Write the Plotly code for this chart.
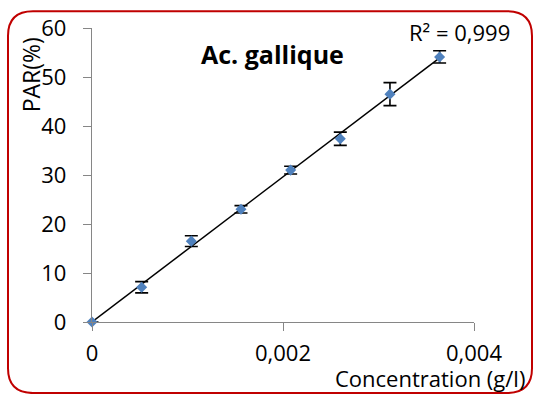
import numpy as np
import plotly.graph_objects as go

# Data
concentration = [0, 0.00052, 0.00104, 0.00156, 0.00208, 0.0026, 0.00312, 0.00364]
par = [0, 7.1, 16.5, 23.0, 31.0, 37.4, 46.5, 54.1]
par_err = [0, 1.15, 1.1, 0.75, 0.8, 1.35, 2.35, 1.25]
x_ticks = [0, 0.002, 0.004]
x_ticklabels = ["0", "0,002", "0,004"]
y_ticks = [0, 10, 20, 30, 40, 50, 60]

# Layout geometry (pixels)
W, H = 534, 394
L, R, T, B = 92, 60, 24, 72
PW, PH = W - L - R, H - T - B

def px(x):
    return (x - L) / PW

def py(y):
    return (H - B - y) / PH

# Linear trendline
slope, intercept = np.polyfit(concentration, par, 1)
tx = [0, concentration[-1]]
ty = [slope * v + intercept for v in tx]

FONT = "Open Sans"
fig = go.Figure()
fig.add_trace(go.Scatter(
    x=tx, y=ty, mode="lines",
    line=dict(color="black", width=1.5),
    cliponaxis=False, showlegend=False, hoverinfo="skip"))
fig.add_trace(go.Scatter(
    x=concentration, y=par, mode="markers",
    marker=dict(symbol="diamond", size=8.5, color="#4F81BD"),
    error_y=dict(type="data", array=par_err, visible=True,
                 color="black", thickness=1.6, width=6.5),
    cliponaxis=False, showlegend=False))

# Rounded border
left, right, top, bottom, r = 8, 532, 7, 394, 25
path = (
    f"M {px(left)},{py(top + r)} "
    f"Q {px(left)},{py(top)} {px(left + r)},{py(top)} "
    f"L {px(right - r)},{py(top)} "
    f"Q {px(right)},{py(top)} {px(right)},{py(top + r)} "
    f"L {px(right)},{py(bottom - r)} "
    f"Q {px(right)},{py(bottom)} {px(right - r)},{py(bottom)} "
    f"L {px(left + r)},{py(bottom)} "
    f"Q {px(left)},{py(bottom)} {px(left)},{py(bottom - r)} Z"
)
fig.add_shape(type="path", path=path, xref="paper", yref="paper",
              line=dict(color="#C00000", width=2), layer="above")

axis_common = dict(showgrid=False, zeroline=False, showline=True,
                   linecolor="#868686", linewidth=1.3, ticks="outside",
                   ticklen=8, tickcolor="#868686", tickwidth=1.3,
                   tickfont=dict(family=FONT, size=22, color="black"))

fig.update_layout(
    width=W, height=H,
    margin=dict(l=L, r=R, t=T, b=B),
    paper_bgcolor="white", plot_bgcolor="white",
    xaxis=dict(range=[0, 0.004], tickvals=x_ticks, ticktext=x_ticklabels,
               ticklabelstandoff=3, **axis_common),
    yaxis=dict(range=[0, 60], tickvals=y_ticks,
               ticklabelstandoff=12, **axis_common),
    annotations=[
        dict(text="PAR(%)", x=px(31), y=py(72), xref="paper", yref="paper",
             textangle=-90, showarrow=False,
             font=dict(family=FONT, size=23, color="black"),
             xanchor="center", yanchor="middle"),
        dict(text="Concentration (g/l)", x=px(430), y=py(379), xref="paper", yref="paper",
             showarrow=False, font=dict(family=FONT, size=22, color="black"),
             xanchor="center", yanchor="middle"),
        dict(text="<b>Ac. gallique</b>", x=px(272), y=py(50), xref="paper", yref="paper",
             showarrow=False, font=dict(family=FONT, size=25, color="black"),
             xanchor="center", yanchor="middle"),
        dict(text="R² = 0,999", x=px(459), y=py(28), xref="paper", yref="paper",
             showarrow=False, font=dict(family=FONT, size=22, color="black"),
             xanchor="center", yanchor="middle"),
    ],
)

fig.write_html("out.html")
